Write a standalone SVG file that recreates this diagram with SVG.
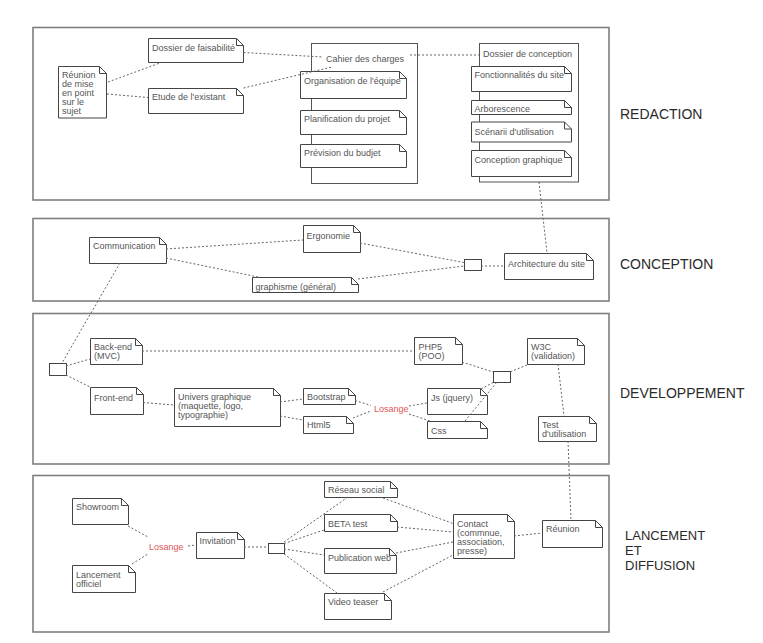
<svg xmlns="http://www.w3.org/2000/svg" width="763" height="643" viewBox="0 0 763 643">
<defs>
<style>
.frame{fill:#fff;stroke:#7f7f7f;stroke-width:1.6}
.box{fill:#fff;stroke:#555;stroke-width:1}
.note{fill:#fff;stroke:#444;stroke-width:1}
.fold{fill:none;stroke:#444;stroke-width:1}
.t{font-family:"Liberation Sans",Arial,Helvetica,sans-serif;font-size:9px;fill:#555}
.red{font-family:"Liberation Sans",Arial,Helvetica,sans-serif;font-size:9px;fill:#e05555}
.lbl{font-family:"Liberation Sans",Arial,Helvetica,sans-serif;font-size:14px;fill:#2a2a2a}
.lbl2{font-family:"Liberation Sans",Arial,Helvetica,sans-serif;font-size:13px;fill:#2a2a2a}
.c{fill:none;stroke:#666;stroke-width:1;stroke-dasharray:2 2}
</style>
</defs>
<rect width="763" height="643" fill="#fff"/>

<g id="frames">
<rect class="frame" x="33" y="27.5" width="576" height="172.5"/>
<rect class="frame" x="33" y="218.5" width="576" height="82.5"/>
<rect class="frame" x="33" y="313.5" width="576" height="150.5"/>
<rect class="frame" x="33" y="475.5" width="576" height="156.5"/>
</g>

<g id="labels">
<text class="lbl" x="620" y="118.5">REDACTION</text>
<text class="lbl" x="620" y="268.5">CONCEPTION</text>
<text class="lbl" x="620" y="397.5">DEVELOPPEMENT</text>
<text class="lbl2" x="625" y="540.3">LANCEMENT</text>
<text class="lbl2" x="625" y="554.9">ET</text>
<text class="lbl2" x="625" y="569.5">DIFFUSION</text>
</g>

<g id="cahier-des-charges">
<rect class="box" x="311.5" y="43.5" width="106" height="140"/>
<text class="t" x="326" y="61.5">Cahier des charges</text>
</g>
<g id="dossier-de-conception">
<rect class="box" x="479.5" y="43.5" width="99" height="138.5"/>
<text class="t" x="483" y="56.5">Dossier de conception</text>
</g>

<g id="reunion-mise-en-point">
<path class="note" d="M58.5,66.5h41l7,7v44.5h-48z"/><path class="fold" d="M99.5,66.5v7h7"/>
<text class="t" x="62"><tspan x="62" y="78">Réunion</tspan><tspan x="62" y="87">de mise</tspan><tspan x="62" y="96">en point</tspan><tspan x="62" y="105">sur le</tspan><tspan x="62" y="114">sujet</tspan></text>
</g>
<g id="dossier-faisabilite">
<path class="note" d="M148.5,38.5h88l7,7v17h-95z"/><path class="fold" d="M236.5,38.5v7h7"/>
<text class="t" x="152" y="51">Dossier de faisabilité</text>
</g>
<g id="etude-existant">
<path class="note" d="M148.5,88.5h88l7,7v18h-95z"/><path class="fold" d="M236.5,88.5v7h7"/>
<text class="t" x="152" y="100">Etude de l'existant</text>
</g>
<g id="organisation-equipe">
<path class="note" d="M300.5,71.5h99l7,7v20h-106z"/><path class="fold" d="M399.5,71.5v7h7"/>
<text class="t" x="304" y="84">Organisation de l'équipe</text>
</g>
<g id="planification-projet">
<path class="note" d="M300.5,110.5h99l7,7v17h-106z"/><path class="fold" d="M399.5,110.5v7h7"/>
<text class="t" x="304" y="121.5">Planification du projet</text>
</g>
<g id="prevision-budjet">
<path class="note" d="M300.5,144.5h99l7,7v16h-106z"/><path class="fold" d="M399.5,144.5v7h7"/>
<text class="t" x="304" y="156">Prévision du budjet</text>
</g>
<g id="fonctionnalites">
<path class="note" d="M471.5,66.5h93l7,7v18h-100z"/><path class="fold" d="M564.5,66.5v7h7"/>
<text class="t" x="474.5" y="78">Fonctionnalités du site</text>
</g>
<g id="arborescence">
<path class="note" d="M471.5,100.5h93l7,7v7h-100z"/><path class="fold" d="M564.5,100.5v7h7"/>
<text class="t" x="474.5" y="111.5">Arborescence</text>
</g>
<g id="scenarii">
<path class="note" d="M471.5,122h93l7,7v13h-100z"/><path class="fold" d="M564.5,122v7h7"/>
<text class="t" x="474.5" y="134.5">Scénarii d'utilisation</text>
</g>
<g id="conception-graphique">
<path class="note" d="M471.5,150.5h93l7,7v19h-100z"/><path class="fold" d="M564.5,150.5v7h7"/>
<text class="t" x="474.5" y="163">Conception graphique</text>
</g>

<g id="communication">
<path class="note" d="M89.5,237.5h70l7,7v19h-77z"/><path class="fold" d="M159.5,237.5v7h7"/>
<text class="t" x="93" y="249">Communication</text>
</g>
<g id="ergonomie">
<path class="note" d="M303.5,225.5h50l7,7v20h-57z"/><path class="fold" d="M353.5,225.5v7h7"/>
<text class="t" x="306.5" y="238.5">Ergonomie</text>
</g>
<g id="graphisme">
<path class="note" d="M252.5,277.5h99l7,7v8h-106z"/><path class="fold" d="M351.5,277.5v7h7"/>
<text class="t" x="255.5" y="290">graphisme (général)</text>
</g>
<g id="jonction-conception">
<rect class="note" x="464.5" y="259.5" width="17" height="11"/>
</g>
<g id="architecture">
<path class="note" d="M504.5,253.5h82l7,7v19h-89z"/><path class="fold" d="M586.5,253.5v7h7"/>
<text class="t" x="508" y="266.5">Architecture du site</text>
</g>

<g id="jonction-dev">
<rect class="note" x="49.5" y="363.5" width="17" height="12"/>
</g>
<g id="back-end">
<path class="note" d="M90.5,338.5h45l7,7v19h-52z"/><path class="fold" d="M135.5,338.5v7h7"/>
<text class="t"><tspan x="94" y="350">Back-end</tspan><tspan x="94" y="359">(MVC)</tspan></text>
</g>
<g id="front-end">
<path class="note" d="M90.5,387.5h46l7,7v20h-53z"/><path class="fold" d="M136.5,387.5v7h7"/>
<text class="t" x="94" y="401">Front-end</text>
</g>
<g id="univers-graphique">
<path class="note" d="M174.5,388.5h99l7,7v31h-106z"/><path class="fold" d="M273.5,388.5v7h7"/>
<text class="t"><tspan x="178" y="400">Univers graphique</tspan><tspan x="178" y="409">(maquette, logo,</tspan><tspan x="178" y="418">typographie)</tspan></text>
</g>
<g id="bootstrap">
<path class="note" d="M303.5,388.5h45l7,7v9h-52z"/><path class="fold" d="M348.5,388.5v7h7"/>
<text class="t" x="307" y="400">Bootstrap</text>
</g>
<g id="html5">
<path class="note" d="M303.5,416.5h43l7,7v10h-50z"/><path class="fold" d="M346.5,416.5v7h7"/>
<text class="t" x="307" y="428">Html5</text>
</g>
<g id="losange-dev">
<text class="red" x="374" y="411.5">Losange</text>
</g>
<g id="js">
<path class="note" d="M427.5,388.5h53l7,7v19h-60z"/><path class="fold" d="M480.5,388.5v7h7"/>
<text class="t" x="431" y="401">Js (jquery)</text>
</g>
<g id="css">
<path class="note" d="M427.5,421.5h53l7,7v10h-60z"/><path class="fold" d="M480.5,421.5v7h7"/>
<text class="t" x="431" y="433.5">Css</text>
</g>
<g id="php5">
<path class="note" d="M414.5,337.5h41l7,7v20h-48z"/><path class="fold" d="M455.5,337.5v7h7"/>
<text class="t"><tspan x="418.5" y="349.5">PHP5</tspan><tspan x="418.5" y="358.5">(POO)</tspan></text>
</g>
<g id="jonction-dev2">
<rect class="note" x="493.5" y="371.5" width="17" height="11"/>
</g>
<g id="w3c">
<path class="note" d="M527.5,338.5h50l7,7v19h-57z"/><path class="fold" d="M577.5,338.5v7h7"/>
<text class="t"><tspan x="531" y="350">W3C</tspan><tspan x="531" y="359">(validation)</tspan></text>
</g>
<g id="test-utilisation">
<path class="note" d="M538.5,416.5h51l7,7v18h-58z"/><path class="fold" d="M589.5,416.5v7h7"/>
<text class="t"><tspan x="542" y="428">Test</tspan><tspan x="542" y="437">d'utilisation</tspan></text>
</g>

<g id="showroom">
<path class="note" d="M72.5,498.5h49l7,7v19h-56z"/><path class="fold" d="M121.5,498.5v7h7"/>
<text class="t" x="76" y="510">Showroom</text>
</g>
<g id="lancement-officiel">
<path class="note" d="M72.5,565.5h56l7,7v20h-63z"/><path class="fold" d="M128.5,565.5v7h7"/>
<text class="t"><tspan x="76" y="577.5">Lancement</tspan><tspan x="76" y="586.5">officiel</tspan></text>
</g>
<g id="losange-lancement">
<text class="red" x="149" y="549.5">Losange</text>
</g>
<g id="invitation">
<path class="note" d="M196.5,532.5h41l7,7v19h-48z"/><path class="fold" d="M237.5,532.5v7h7"/>
<text class="t" x="199.5" y="544">Invitation</text>
</g>
<g id="jonction-lancement">
<rect class="note" x="268.5" y="543.5" width="16" height="10"/>
</g>
<g id="reseau-social">
<path class="note" d="M324.5,481.5h66l7,7v9h-73z"/><path class="fold" d="M390.5,481.5v7h7"/>
<text class="t" x="328" y="492.5">Réseau social</text>
</g>
<g id="beta-test">
<path class="note" d="M324.5,514.5h66l7,7v10h-73z"/><path class="fold" d="M390.5,514.5v7h7"/>
<text class="t" x="328" y="526.5">BETA test</text>
</g>
<g id="publication-web">
<path class="note" d="M324.5,548.5h65l7,7v18h-72z"/><path class="fold" d="M389.5,548.5v7h7"/>
<text class="t" x="328" y="560.5">Publication web</text>
</g>
<g id="video-teaser">
<path class="note" d="M324.5,593.5h60l7,7v19h-67z"/><path class="fold" d="M384.5,593.5v7h7"/>
<text class="t" x="328" y="605">Video teaser</text>
</g>
<g id="contact">
<path class="note" d="M453.5,514.5h54l7,7v37h-61z"/><path class="fold" d="M507.5,514.5v7h7"/>
<text class="t"><tspan x="457" y="526.5">Contact</tspan><tspan x="457" y="535.5">(commnue,</tspan><tspan x="457" y="544.5">association,</tspan><tspan x="457" y="553.5">presse)</tspan></text>
</g>
<g id="reunion">
<path class="note" d="M542.5,520.5h53l7,7v20h-60z"/><path class="fold" d="M595.5,520.5v7h7"/>
<text class="t" x="546" y="532">Réunion</text>
</g>

<g id="connectors">
<path class="c" d="M108,82L160,63"/>
<path class="c" d="M107,94L148,97.5"/>
<path class="c" d="M243.5,52.5L323,57"/>
<path class="c" d="M243.5,88L332,67"/>
<path class="c" d="M410,55L479,55"/>
<path class="c" d="M539,182L547,253"/>
<path class="c" d="M166,249L303,240"/>
<path class="c" d="M166,258L258,277"/>
<path class="c" d="M360,243L464,262.5"/>
<path class="c" d="M358,279L464,266"/>
<path class="c" d="M481,266L504,266"/>
<path class="c" d="M120,263L62,363"/>
<path class="c" d="M66,366L90,359"/>
<path class="c" d="M66,375L90,387"/>
<path class="c" d="M142,351L414,351"/>
<path class="c" d="M143,402.5L174,405"/>
<path class="c" d="M280,402L303,399"/>
<path class="c" d="M280,416L303,420"/>
<path class="c" d="M355,400.5L371,405.5"/>
<path class="c" d="M353,418L371,411"/>
<path class="c" d="M409,406L427,403"/>
<path class="c" d="M409,414L430,421"/>
<path class="c" d="M462,362L493,372"/>
<path class="c" d="M527,365L510,372"/>
<path class="c" d="M481,389L494,382"/>
<path class="c" d="M465,421L497,382"/>
<path class="c" d="M558,364L564,416"/>
<path class="c" d="M568,441L571,520"/>
<path class="c" d="M128,526L148,537"/>
<path class="c" d="M132,564L148,554"/>
<path class="c" d="M188,546L196,545"/>
<path class="c" d="M244,547L268,547"/>
<path class="c" d="M284,542L348,497"/>
<path class="c" d="M284,543.5L324,530"/>
<path class="c" d="M284,549L324,555"/>
<path class="c" d="M284,554L337,593"/>
<path class="c" d="M383,498L453,523.5"/>
<path class="c" d="M397,527L453,532"/>
<path class="c" d="M396,553L453,542"/>
<path class="c" d="M383,592L453,555"/>
<path class="c" d="M514,536L542,533"/>
</g>
</svg>
